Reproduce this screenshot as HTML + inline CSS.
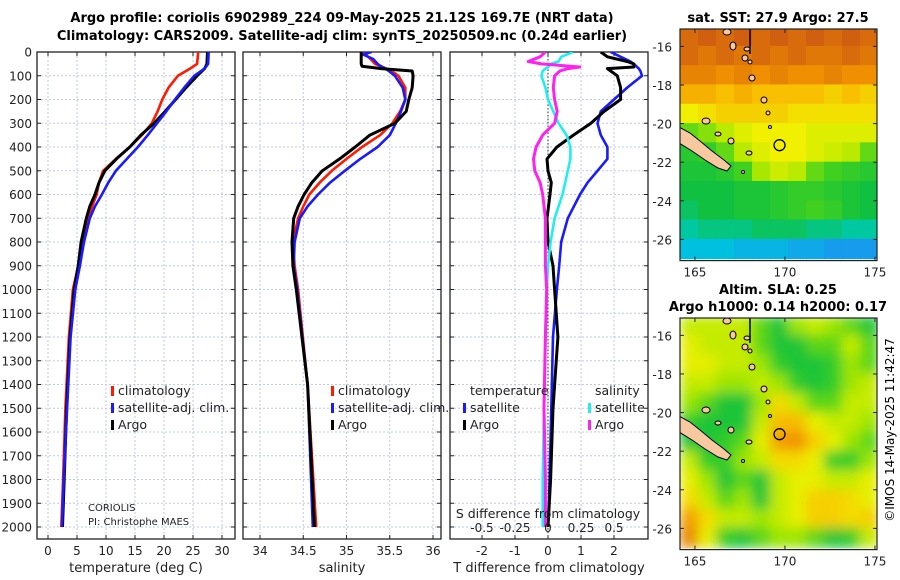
<!DOCTYPE html>
<html><head><meta charset="utf-8"><style>
body{margin:0;background:#fff}
svg{display:block;font-family:"DejaVu Sans","Liberation Sans",sans-serif}
</style></head><body>
<svg id="fig" width="900" height="580" viewBox="0 0 900 580" xmlns="http://www.w3.org/2000/svg">
<defs>
<clipPath id="c1"><rect x="37" y="52" width="198" height="487"/></clipPath>
<clipPath id="c2"><rect x="243" y="52" width="198" height="487"/></clipPath>
<clipPath id="c3"><rect x="450" y="52" width="198" height="487"/></clipPath>
<clipPath id="cm1"><rect x="680" y="29" width="197" height="231"/></clipPath>
<clipPath id="cm2"><rect x="680" y="318" width="197" height="232"/></clipPath>
<filter id="blur" x="0" y="0" width="100%" height="100%"><feGaussianBlur stdDeviation="6" edgeMode="duplicate"/></filter>
</defs>
<text x="342" y="22" text-anchor="middle" font-size="13" font-weight="bold">Argo profile: coriolis 6902989_224 09-May-2025 21.12S 169.7E (NRT data)</text>
<text x="342" y="40" text-anchor="middle" font-size="13" font-weight="bold">Climatology: CARS2009. Satellite-adj clim: synTS_20250509.nc (0.24d earlier)</text>
<text x="778" y="22" text-anchor="middle" font-size="13" font-weight="bold">sat. SST: 27.9 Argo: 27.5</text>
<text x="778" y="294" text-anchor="middle" font-size="13" font-weight="bold">Altim. SLA: 0.25</text>
<text x="778" y="311" text-anchor="middle" font-size="13" font-weight="bold">Argo h1000: 0.14 h2000: 0.17</text>
<text transform="translate(894,430) rotate(-90)" text-anchor="middle" font-size="12">©IMOS 14-May-2025 11:42:47</text>
<g id="g1"></g><g id="g2"></g><g id="g3"></g><g id="gm"></g>
</svg>
<script>
// ---- profile data (depth in dbar) ----
const tDepth = [0,50,70,100,150,200,250,300,350,400,450,500,550,600,650,700,800,900,1000,1200,1500,1800,2000];
const tClim  = [25.9,25.7,24.5,22.4,20.8,19.7,18.9,17.9,16.2,14.1,11.7,9.5,8.8,8.4,7.6,6.9,5.9,5.2,4.3,3.6,3.0,2.6,2.3];
const tArgo  = [27.5,27.4,27.0,25.7,23.8,22.0,20.2,18.3,16.0,14.1,11.8,9.8,8.8,8.1,7.2,6.6,5.7,5.2,4.5,3.8,3.2,2.8,2.5];
const tSat   = [27.7,27.6,27.0,25.2,23.5,21.9,20.4,18.8,17.2,15.5,13.6,11.7,10.4,9.3,8.1,7.2,6.2,5.5,4.7,3.9,3.3,2.7,2.4];
const sDepth = [0,10,30,50,60,70,80,100,150,200,250,300,350,400,450,500,550,600,650,700,800,900,1000,1400,2000];
const sClim  = [35.19,35.22,35.28,35.33,35.40,35.46,35.52,35.60,35.68,35.68,35.62,35.53,35.39,35.18,35.00,34.83,34.69,34.57,34.50,34.44,34.38,34.40,34.44,34.55,34.65];
const sArgo  = [35.17,35.17,35.17,35.17,35.18,35.40,35.76,35.77,35.76,35.72,35.69,35.56,35.27,35.10,34.92,34.72,34.60,34.51,34.44,34.39,34.37,34.38,34.42,34.55,34.63];
const sSat   = [35.29,35.19,35.31,35.36,35.40,35.45,35.49,35.56,35.65,35.68,35.63,35.57,35.50,35.36,35.16,34.98,34.81,34.67,34.55,34.46,34.40,34.39,34.43,34.55,34.61];
const dDepth = [0,20,40,50,63,70,80,100,150,200,250,300,350,400,450,500,550,600,700,800,900,1000,1200,1500,1800,2000];
const dTArgo = [1.6,1.8,2.4,2.6,2.6,1.8,1.9,2.1,2.2,2.2,1.7,1.3,0.77,0.27,-0.03,0.0,0.1,0.06,-0.03,0.0,0.15,0.2,0.3,0.15,0.08,0.0];
const dTSat  = [1.9,2.2,2.5,2.6,2.7,2.75,2.8,2.85,2.4,2.0,1.6,1.5,1.6,1.8,1.8,1.5,1.2,0.97,0.6,0.4,0.34,0.27,0.15,0.1,0.05,0.0];
const dSSat  = [0.19,0.1,0.08,0.02,0.0,-0.02,-0.04,-0.05,-0.02,0.0,0.04,0.08,0.14,0.17,0.17,0.15,0.13,0.11,0.05,0.02,0.0,-0.01,-0.02,-0.03,-0.04,-0.04];
const dSArgo = [-0.02,-0.06,-0.15,-0.05,0.24,0.15,0.09,0.05,0.04,0.05,0.07,0.05,-0.04,-0.09,-0.11,-0.10,-0.06,-0.04,-0.02,-0.02,-0.02,-0.01,-0.02,-0.03,-0.02,-0.02];
const depthTicks = [0,100,200,300,400,500,600,700,800,900,1000,1100,1200,1300,1400,1500,1600,1700,1800,1900,2000];
const tTicks = [0,5,10,15,20,25,30];
const sTicks = [34,34.5,35,35.5,36];
const sTickLabels = ["34","34.5","35","35.5","36"];
const dTicks = [-2,-1,0,1,2];
const sdTicks = [-0.5,-0.25,0,0.25,0.5];
const sdTickLabels = ["-0.5","-0.25","0","0.25","0.5"];
// ---- map data: rows lat -15.5..-26.5, cols lon 164.7..174.7 ----
const mapLats = [-15.5,-16.5,-17.5,-18.5,-19.5,-20.5,-21.5,-22.5,-23.5,-24.5,-25.5,-26.5];
const mapLons = [164.7,165.7,166.7,167.7,168.7,169.7,170.7,171.7,172.7,173.7,174.7];
const sstRows = [
[28.5,28.6,28.5,28.6,28.5,28.6,28.5,28.6,28.5,28.6,28.5],
[28.5,28.4,28.5,28.4,28.5,28.4,28.5,28.4,28.4,28.5,28.4],
[28.3,28.3,28.2,28.3,28.2,28.3,28.2,28.2,28.3,28.2,28.2],
[28.0,28.0,27.9,28.0,27.9,27.9,27.9,27.9,27.8,27.9,27.8],
[27.6,27.7,27.8,27.8,27.8,27.8,27.7,27.7,27.7,27.7,27.7],
[27.0,27.1,27.3,27.5,27.6,27.6,27.6,27.5,27.5,27.5,27.5],
[26.7,26.8,27.0,27.3,27.5,27.6,27.6,27.5,27.4,27.3,27.0],
[26.6,26.6,26.7,26.9,27.2,27.4,27.3,27.0,26.9,26.8,26.7],
[26.5,26.5,26.5,26.6,26.6,26.7,26.8,26.8,26.7,26.6,26.5],
[26.4,26.5,26.5,26.6,26.6,26.7,26.8,26.9,26.8,26.6,26.5],
[26.2,26.3,26.3,26.3,26.4,26.4,26.4,26.3,26.3,26.2,26.2],
[25.9,25.9,25.9,25.8,25.8,25.8,25.7,25.7,25.6,25.6,25.6]];
const slaRows = [
[.5,.5,.5,.5,.4,.3,.45,.5,.45,.4,.3],
[.55,.5,.5,.5,.4,.3,.3,.4,.4,.5,.4],
[.55,.55,.5,.5,.45,.35,.3,.3,.35,.45,.4],
[.5,.5,.45,.45,.5,.45,.35,.3,.35,.45,.5],
[.45,.4,.3,.3,.45,.6,.5,.4,.4,.5,.5],
[.35,.3,.3,.3,.5,.65,.65,.55,.5,.5,.45],
[.3,.3,.35,.4,.55,.7,.72,.62,.55,.45,.4],
[.5,.35,.35,.45,.5,.6,.6,.55,.35,.35,.45],
[.55,.45,.3,.4,.3,.5,.55,.55,.5,.5,.55],
[.6,.5,.4,.45,.3,.5,.55,.62,.62,.6,.55],
[.7,.6,.5,.5,.45,.5,.55,.62,.62,.6,.62],
[.75,.55,.35,.3,.4,.45,.45,.4,.3,.35,.5]];
const mapLatTicks = [-16,-18,-20,-22,-24,-26];
const mapLonTicks = [165,170,175];
const argoPos = [169.7,-21.12];

const NS="http://www.w3.org/2000/svg";
function mk(parent,tag,attrs){const e=document.createElementNS(NS,tag);for(const k in attrs)e.setAttribute(k,attrs[k]);parent.appendChild(e);return e;}
const yD=d=>52+d*0.2375;
const xT=v=>48+5.8*v;
const xS=v=>260+86.5*(v-34);
const xD=v=>548+33*v;
const xSD=v=>548+132*v;

function panel(g,x0,ticks,labels,xf,clip,title,name){
  depthTicks.forEach(d=>{const l=mk(g,'line',{x1:x0,x2:x0+198,y1:yD(d),y2:yD(d),stroke:'#c2c8e6','stroke-width':1,'stroke-dasharray':'2,2'});
    
    });
  ticks.forEach((t,i)=>{const x=xf(t);const l=mk(g,'line',{x1:x,x2:x,y1:52,y2:539,stroke:'#c2c8e6','stroke-width':1,'stroke-dasharray':'2,2'});
    
    
    mk(g,'line',{x1:x,x2:x,y1:539,y2:535,stroke:'#222'});mk(g,'line',{x1:x,x2:x,y1:52,y2:56,stroke:'#222'});
    const tx=mk(g,'text',{x:x,y:555,'text-anchor':'middle','font-size':12,fill:'#222'});tx.textContent=labels[i];
    
    });
  depthTicks.forEach(d=>{mk(g,'line',{x1:x0,x2:x0+4,y1:yD(d),y2:yD(d),stroke:'#222'});mk(g,'line',{x1:x0+198,x2:x0+194,y1:yD(d),y2:yD(d),stroke:'#222'});});
  const r=mk(g,'rect',{x:x0,y:52,width:198,height:487,fill:'none',stroke:'#222','stroke-width':1.3});
  
  
  const tt=mk(g,'text',{x:x0+99,y:572,'text-anchor':'middle','font-size':13,fill:'#222'});tt.textContent=title;
  
  
  return mk(g,'g',{'clip-path':'url(#'+clip+')'});
}
function line(g,depths,vals,xf,color,name,w){
  const pts=depths.map((d,i)=>xf(vals[i]).toFixed(1)+','+yD(d).toFixed(1)).join(' ');
  const p=mk(g,'polyline',{points:pts,fill:'none',stroke:color,'stroke-width':w||2.6,'stroke-linejoin':'round'});
  
  
}
function txt(g,x,y,s,size,name,anchor){const t=mk(g,'text',{x:x,y:y,'font-size':size,fill:'#222','text-anchor':anchor||'start'});t.textContent=s;
  
  return t;}
function legend(g,x,y,color,label,name){
  const m=mk(g,'rect',{x:x,y:y-9,width:3,height:10,fill:color});
  
  
  txt(g,x+7,y,label,12.5,name);
}
const g1=document.getElementById('g1'),g2=document.getElementById('g2'),g3=document.getElementById('g3'),gm=document.getElementById('gm');
depthTicks.forEach(d=>{txt(g1,32,yD(d)+4.5,String(d),12,'y-tick-label','end');});

const p1=panel(g1,37,tTicks,tTicks.map(String),xT,'c1','temperature (deg C)','temperature-panel');
line(p1,tDepth,tClim,xT,'#ff1a00','temp-climatology-line');
line(p1,tDepth,tArgo,xT,'#000','temp-argo-line',3);
line(p1,tDepth,tSat,xT,'#1a1aff','temp-satellite-line');
legend(g1,111,395,'#ff1a00','climatology','legend-climatology');
legend(g1,111,412,'#1a1aff','satellite-adj. clim.','legend-satellite');
legend(g1,111,429,'#000','Argo','legend-argo');
txt(g1,88,511,'CORIOLIS',10,'institution-label');
txt(g1,88,525,'PI: Christophe MAES',10,'pi-label');

const p2=panel(g2,243,sTicks,sTickLabels,xS,'c2','salinity','salinity-panel');
line(p2,sDepth,sClim,xS,'#ff1a00','sal-climatology-line');
line(p2,sDepth,sSat,xS,'#1a1aff','sal-satellite-line');
line(p2,sDepth,sArgo,xS,'#000','sal-argo-line',3);
legend(g2,331,395,'#ff1a00','climatology','legend-climatology');
legend(g2,331,412,'#1a1aff','satellite-adj. clim.','legend-satellite');
legend(g2,331,429,'#000','Argo','legend-argo');

const p3=panel(g3,450,dTicks,dTicks.map(String),xD,'c3','T difference from climatology','difference-panel');
const zl=mk(p3,'line',{x1:548,x2:548,y1:52,y2:539,stroke:'#333','stroke-width':1,'stroke-dasharray':'1.5,2'});


line(p3,dDepth,dTSat,xD,'#1a1aff','tdiff-satellite-line');
line(p3,dDepth,dTArgo,xD,'#000','tdiff-argo-line',3);
line(p3,dDepth,dSSat,xSD,'#22eef0','sdiff-satellite-line');
line(p3,dDepth,dSArgo,xSD,'#ff22ee','sdiff-argo-line',3);
txt(g3,470,395,'temperature',12.5,'legend-temperature-header');
txt(g3,595,395,'salinity',12.5,'legend-salinity-header');
legend(g3,463,412,'#1a1aff','satellite','legend-t-satellite');
legend(g3,463,429,'#000','Argo','legend-t-argo');
legend(g3,588,412,'#22eef0','satellite','legend-s-satellite');
legend(g3,588,429,'#ff22ee','Argo','legend-s-argo');
txt(g3,548,518,'S difference from climatology',12.5,'s-diff-axis-title','middle');
sdTicks.forEach((t,i)=>txt(g3,xSD(t),532,sdTickLabels[i],12,'s-diff-tick-label','middle'));

// ---- maps ----
const stops=[[25.5,[31,143,240]],[25.9,[0,192,224]],[26.2,[0,200,160]],[26.5,[16,192,64]],[26.9,[64,208,32]],[27.2,[168,232,0]],[27.6,[240,240,0]],[27.9,[248,192,0]],[28.2,[240,144,0]],[28.6,[208,96,16]]];
function cmap(v){if(v<=stops[0][0])return 'rgb('+stops[0][1]+')';for(let i=1;i<stops.length;i++){if(v<=stops[i][0]){const a=stops[i-1],b=stops[i],f=(v-a[0])/(b[0]-a[0]);return 'rgb('+a[1].map((c,k)=>Math.round(c+(b[1][k]-c)*f)).join(',')+')';}}return 'rgb('+stops[stops.length-1][1]+')';}
const mx=lon=>680+(lon-164.17)*18;
// island shapes in SST-map pixel coordinates (shifted for second map)
const ncPoly=[[679,127],[690,133],[700,141],[712,151],[724,160],[731,166],[727,171],[718,168],[705,160],[692,151],[679,143]];
const islets=[[727,32,4,3],[733,46,3,4],[747,49,3,2],[745,58,3,3],[750,62,2,2],[752,78,3,3],[764,100,3,3],[768,113,2,2],[770,127,1.5,1.5],[706,121,4,3],[718,134,3,2],[731,141,3,3],[749,153,3,2],[743,172,1.5,1.5]];
function map(top,rows,conv,clip,blur,name){
  const yM=lat=>top+(-15.1-lat)*19.3;
  const dy=top-29;
  const outer=mk(gm,'g',{'clip-path':'url(#'+clip+')'});
  const g=mk(outer,'g',blur?{filter:'url(#blur)'}:{});
  rows.forEach((row,ri)=>row.forEach((v,ci)=>{
    const lon=mapLons[ci],lat=mapLats[ri];
    const x=mx(lon-0.5),y=yM(lat+0.5);
    const c=mk(g,'rect',{x:x-0.5,y:y-0.5,width:19,height:20.3,fill:cmap(conv(v))});
    
    
  }));
  const isl=mk(outer,'g',{fill:'#f8c8a0',stroke:'#000','stroke-width':1});
  const nc=mk(isl,'polygon',{points:ncPoly.map(p=>p[0]+','+(p[1]+dy)).join(' ')});
  
  
  const vl=mk(isl,'line',{x1:750,x2:750,y1:top,y2:top+25,stroke:'#000','stroke-width':1.5});
  
  
  islets.forEach(e=>{
    const el=mk(isl,'ellipse',{cx:e[0],cy:e[1]+dy,rx:e[2],ry:e[3]});
    
    });
  const cr=mk(outer,'circle',{cx:mx(argoPos[0]),cy:yM(argoPos[1]),r:5.5,fill:'none',stroke:'#000','stroke-width':1.3});
  
  
  const fr=mk(gm,'rect',{x:680,y:top,width:197,height:yM(-27.1)-top,fill:'none',stroke:'#222','stroke-width':1.2});
  
  
  mapLatTicks.forEach(l=>{const y=yM(l);mk(gm,'line',{x1:877,x2:873,y1:y,y2:y,stroke:'#222'});mk(gm,'line',{x1:680,x2:684,y1:y,y2:y,stroke:'#222'});
    txt(gm,672,y+5,String(l),12,name+'-lat-label','end');});
  const bot=yM(-27.1);
  mapLonTicks.forEach(l=>{const x=mx(l);mk(gm,'line',{x1:x,x2:x,y1:bot,y2:bot-4,stroke:'#222'});mk(gm,'line',{x1:x,x2:x,y1:top,y2:top+4,stroke:'#222'});
    txt(gm,x,bot+16,String(l),12,name+'-lon-label','middle');});
}
map(29,sstRows,v=>v,'cm1',false,'sst-map');
map(318,slaRows,v=>26.6+(v-0.3)*(1.7/0.45),'cm2',true,'sla-map');
</script>
</body></html>
